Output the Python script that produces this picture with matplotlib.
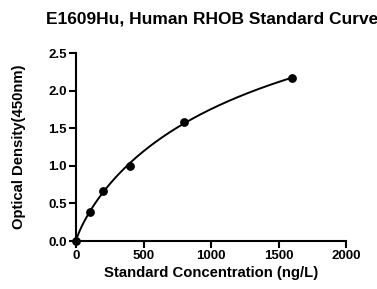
import numpy as np
import matplotlib
matplotlib.use("Agg")
import matplotlib.pyplot as plt

conc = [0, 100, 200, 400, 800, 1600]
od = [0.0, 0.39, 0.66, 1.0, 1.59, 2.17]
xticks = [0, 500, 1000, 1500, 2000]
yticks = [0.0, 0.5, 1.0, 1.5, 2.0, 2.5]

plt.rcParams['font.family'] = ['Liberation Sans', 'DejaVu Sans']
plt.rcParams['font.weight'] = 'bold'

fig = plt.figure(figsize=(3.77, 2.89), dpi=100)
ax = fig.add_axes([0.2016, 0.166, 0.7162, 0.650])

x = np.array(conc, float)
y = np.array(od, float)

# 4-parameter logistic fit via grid search over b, c with linear solve for a, d
best = None
for b in np.linspace(0.5, 2.5, 81):
    for c in np.logspace(2, 6, 161):
        g = 1.0 / (1.0 + (x / c) ** b)
        A = np.column_stack([g, 1 - g])
        sol, *_ = np.linalg.lstsq(A, y, rcond=None)
        err = np.sum((A @ sol - y) ** 2)
        if best is None or err < best[0]:
            best = (err, b, c, sol)
_, b, c, (a, d) = best
xs = np.linspace(0, 1600, 400)
ys = d + (a - d) / (1.0 + (xs / c) ** b)
ax.plot(xs, ys, color='black', lw=1.4, zorder=2)
ax.plot(x, y, 'o', color='black', ms=5.3, zorder=3, clip_on=False)

ax.set_xlim(0, 2000)
ax.set_ylim(0, 2.5)
ax.set_xticks(xticks)
ax.set_yticks(yticks)
ax.set_yticklabels([f"{v:.1f}" for v in yticks])
for s in ['top', 'right']:
    ax.spines[s].set_visible(False)
for s in ['left', 'bottom']:
    ax.spines[s].set_linewidth(1.5)
ax.tick_params(width=1.5, length=5, labelsize=9.5, pad=1.5)
ax.set_xlabel('Standard Concentration (ng/L)', fontsize=10.7, fontweight='bold', labelpad=3)
ax.set_ylabel('Optical Density(450nm)', fontsize=10.7, fontweight='bold', labelpad=16)
fig.text(0.563, 0.933, 'E1609Hu, Human RHOB Standard Curve', ha='center', va='center',
         fontsize=12.5, fontweight='bold')
fig.savefig('out.png', dpi=100)
